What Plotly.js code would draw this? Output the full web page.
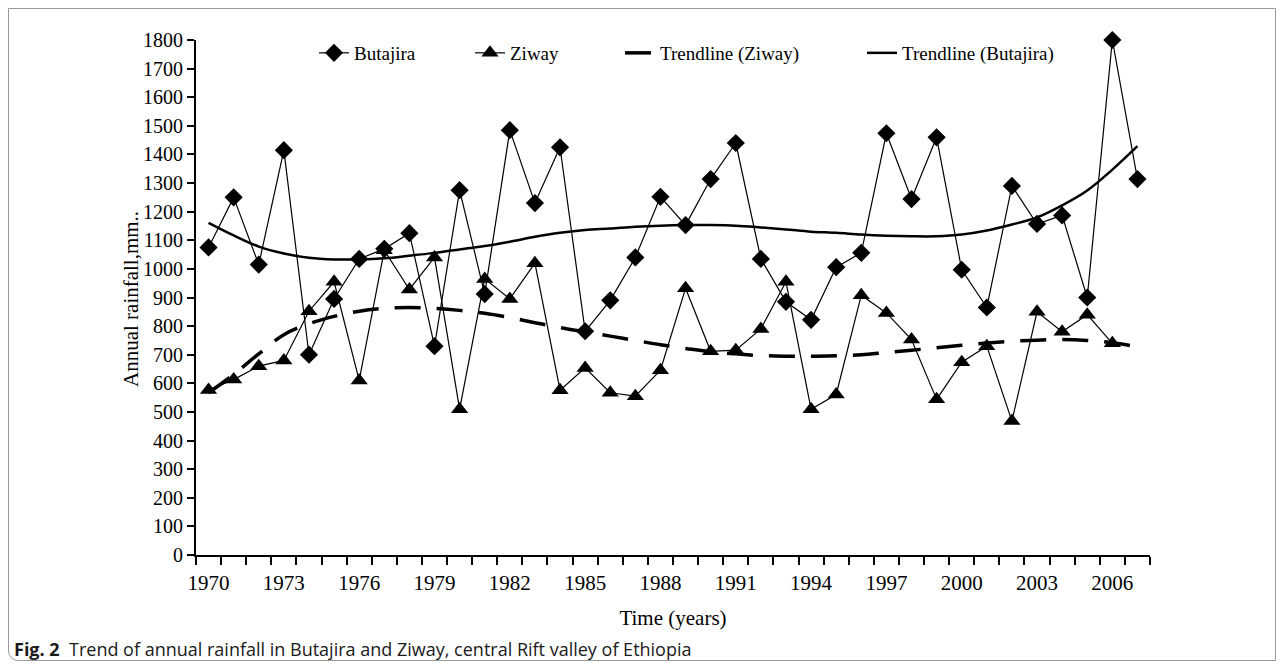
<!DOCTYPE html>
<html>
<head>
<meta charset="utf-8">
<script src="https://cdn.plot.ly/plotly-3.0.1.min.js"></script>
<style>
  html, body { margin: 0; padding: 0; background: #fff; }
  #wrap { position: relative; width: 1285px; height: 669px; }
  #chart { width: 1285px; height: 669px; }
  #frame { position: absolute; left: 8px; top: 8px; width: 1268px; height: 653px;
           border: 1px solid #9a9a9a; border-radius: 0 0 0 10px; pointer-events: none; box-sizing: border-box; }
</style>
</head>
<body>
<div id="wrap">
  <div id="chart"></div>
  <div id="frame"></div>
</div>
<script>
const years = [1970,1971,1972,1973,1974,1975,1976,1977,1978,1979,1980,1981,1982,1983,1984,1985,1986,1987,1988,1989,
               1990,1991,1992,1993,1994,1995,1996,1997,1998,1999,2000,2001,2002,2003,2004,2005,2006,2007];

const butajira = [1075,1250,1015,1415,700,895,1035,1070,1125,730,1275,912,1485,1230,1425,782,890,1040,1252,1153,
                  1314,1440,1035,885,822,1006,1056,1474,1244,1460,997,865,1290,1157,1187,900,1800,1314];

const ziway = [577,613,660,680,852,955,610,1065,928,1040,509,965,895,1020,576,654,567,555,646,932,
               712,716,790,955,509,561,908,846,753,544,674,730,468,850,780,840,740,null];

const trendZiway = [567,631,703,770,808,834,852,862,865,862,855,845,830,812,795,780,765,750,735,722,
                    710,703,697,695,695,696,700,708,716,724,733,741,747,751,753,750,742,728];

const trendButajira = [1161,1117,1078,1054,1039,1033,1033,1037,1046,1056,1068,1080,1095,1112,1126,1136,1141,1147,1151,1153,
                       1153,1151,1145,1138,1130,1126,1120,1116,1114,1114,1120,1134,1155,1180,1222,1274,1347,1429];

const xTickLabels = ['1970','1973','1976','1979','1982','1985','1988','1991','1994','1997','2000','2003','2006'];
const xTickVals = [1970,1973,1976,1979,1982,1985,1988,1991,1994,1997,2000,2003,2006];

const serif = 'Liberation Serif, Times New Roman, serif';
const ML = 196, MR = 135, MT = 40, MB = 114, PW = 1285 - ML - MR, PH = 669 - MT - MB;
const lx = px => (px - ML) / PW;
const ly = py => (669 - MB - py) / PH;

const traces = [
  { x: years, y: butajira, name: 'Butajira', type: 'scatter', mode: 'lines+markers', legend: 'legend',
    cliponaxis: false,
    line: { color: '#000', width: 1.2 },
    marker: { symbol: 'diamond', size: 14, color: '#000' } },
  { x: years, y: ziway, name: 'Ziway', type: 'scatter', mode: 'lines+markers', legend: 'legend2',
    cliponaxis: false,
    line: { color: '#000', width: 1.2 }, connectgaps: false,
    marker: { symbol: 'triangle-up', size: 15, color: '#000' } },
  { x: years, y: trendZiway, name: 'Trendline (Ziway)', type: 'scatter', mode: 'lines', legend: 'legend3',
    line: { color: '#000', width: 3.5, dash: '26px,16px', shape: 'spline' } },
  { x: years, y: trendButajira, name: 'Trendline (Butajira)', type: 'scatter', mode: 'lines', legend: 'legend4',
    line: { color: '#000', width: 2.5, shape: 'spline' } }
];

const legBase = { orientation: 'h', y: ly(53), xanchor: 'left', yanchor: 'middle',
                  font: { family: serif, size: 19, color: '#000' }, bgcolor: 'rgba(0,0,0,0)' };

const layout = {
  width: 1285, height: 669,
  margin: { l: ML, r: MR, t: MT, b: MB },
  paper_bgcolor: '#fff', plot_bgcolor: '#fff',
  font: { family: serif, color: '#000', size: 19 },
  showlegend: true,
  legend:  Object.assign({}, legBase, { x: lx(314) }),
  legend2: Object.assign({}, legBase, { x: lx(470) }),
  legend3: Object.assign({}, legBase, { x: lx(620) }),
  legend4: Object.assign({}, legBase, { x: lx(862) }),
  xaxis: {
    range: [1969.5, 2007.5], showgrid: false, zeroline: false,
    showline: true, linecolor: '#000', linewidth: 2,
    tickmode: 'array', tickvals: xTickVals, ticktext: xTickLabels,
    ticks: '', ticklen: 0, ticklabelstandoff: 8,
    minor: { tick0: 1969.5, dtick: 1, ticks: 'outside', ticklen: 8, tickwidth: 2, tickcolor: '#000', showgrid: false },
    tickfont: { family: serif, size: 21, color: '#000' },
    title: { text: 'Time (years)', font: { family: serif, size: 21, color: '#000' }, standoff: 16 }
  },
  yaxis: {
    range: [0, 1800], dtick: 100, tick0: 0, showgrid: false, zeroline: false,
    showline: true, linecolor: '#000', linewidth: 2,
    ticks: 'outside', ticklen: 7, tickwidth: 2, tickcolor: '#000', ticklabelstandoff: 0,
    tickfont: { family: serif, size: 20, color: '#000' }
  },
  annotations: [
    { xref: 'paper', yref: 'paper', x: lx(131), y: ly(299), xanchor: 'center', yanchor: 'middle', showarrow: false,
      textangle: -90, text: 'Annual rainfall,mm..', font: { family: serif, size: 21, color: '#000' } },
    { xref: 'paper', yref: 'paper', x: lx(12), y: ly(649), xanchor: 'left', yanchor: 'middle', showarrow: false,
      text: '<b>Fig. 2</b>  Trend of annual rainfall in Butajira and Ziway, central Rift valley of Ethiopia',
      font: { family: 'Open Sans, Noto Sans, sans-serif', size: 18, color: '#1a1a1a' } }
  ]
};

Plotly.newPlot('chart', traces, layout, { displayModeBar: false, staticPlot: true });
</script>
</body>
</html>
